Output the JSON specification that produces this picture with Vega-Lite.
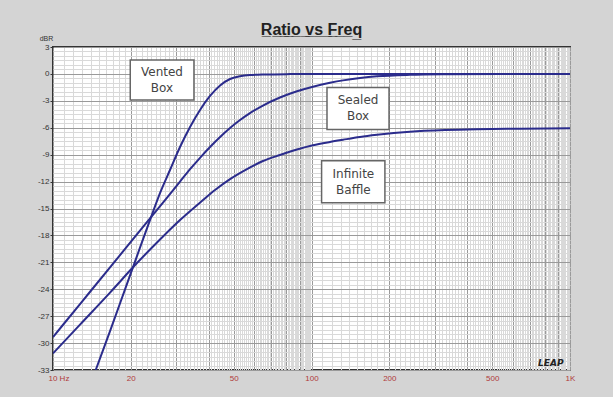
{
  "$schema": "https://vega.github.io/schema/vega-lite/v6.json",
  "width": 517,
  "height": 323,
  "autosize": {"type": "none"},
  "padding": {"left": 53, "top": 47, "right": 43, "bottom": 27},
  "background": "#d4d4d4",
  "config": {
    "view": {"fill": "white", "stroke": "#333333", "strokeWidth": 2},
    "font": "Liberation Sans"
  },
  "title": {
    "text": "R\u0332a\u0332t\u0332i\u0332o\u0332 \u0332v\u0332s\u0332 \u0332F\u0332r\u0332e\u0332q\u0332",
    "font": "Liberation Sans Narrow, Liberation Sans",
    "fontSize": 16,
    "fontWeight": "bold",
    "color": "#222222",
    "offset": -4,
    "anchor": "middle"
  },
  "datasets": {
    "curves": [
      {"series": "vented", "f": 14.63, "db": -33},
      {"series": "vented", "f": 16.62, "db": -28.66},
      {"series": "vented", "f": 18.98, "db": -24.04},
      {"series": "vented", "f": 21.13, "db": -20.3},
      {"series": "vented", "f": 23.72, "db": -16.29},
      {"series": "vented", "f": 25.94, "db": -13.28},
      {"series": "vented", "f": 28.35, "db": -10.71},
      {"series": "vented", "f": 31.0, "db": -8.15},
      {"series": "vented", "f": 33.9, "db": -5.92},
      {"series": "vented", "f": 37.05, "db": -4.02},
      {"series": "vented", "f": 40.5, "db": -2.46},
      {"series": "vented", "f": 44.3, "db": -1.29},
      {"series": "vented", "f": 48.4, "db": -0.57},
      {"series": "vented", "f": 52.9, "db": -0.27},
      {"series": "vented", "f": 57.8, "db": -0.13},
      {"series": "vented", "f": 66.1, "db": -0.06},
      {"series": "vented", "f": 82.6, "db": -0.02},
      {"series": "vented", "f": 117.9, "db": 0},
      {"series": "vented", "f": 1000, "db": 0},
      {"series": "sealed", "f": 10, "db": -29.33},
      {"series": "sealed", "f": 12.72, "db": -25.65},
      {"series": "sealed", "f": 16.62, "db": -21.56},
      {"series": "sealed", "f": 21.7, "db": -17.47},
      {"series": "sealed", "f": 27.13, "db": -14.06},
      {"series": "sealed", "f": 31.0, "db": -12.0},
      {"series": "sealed", "f": 33.9, "db": -10.62},
      {"series": "sealed", "f": 37.05, "db": -9.35},
      {"series": "sealed", "f": 40.5, "db": -8.15},
      {"series": "sealed", "f": 44.3, "db": -7.03},
      {"series": "sealed", "f": 48.4, "db": -6.03},
      {"series": "sealed", "f": 52.9, "db": -5.14},
      {"series": "sealed", "f": 57.8, "db": -4.36},
      {"series": "sealed", "f": 64.35, "db": -3.58},
      {"series": "sealed", "f": 75.5, "db": -2.63},
      {"series": "sealed", "f": 87.9, "db": -1.93},
      {"series": "sealed", "f": 101.3, "db": -1.42},
      {"series": "sealed", "f": 117.9, "db": -0.99},
      {"series": "sealed", "f": 132.4, "db": -0.72},
      {"series": "sealed", "f": 154, "db": -0.46},
      {"series": "sealed", "f": 179.2, "db": -0.27},
      {"series": "sealed", "f": 240.4, "db": -0.1},
      {"series": "sealed", "f": 343.4, "db": -0.03},
      {"series": "sealed", "f": 535.8, "db": 0},
      {"series": "sealed", "f": 1000, "db": 0},
      {"series": "ib", "f": 10, "db": -31.15},
      {"series": "ib", "f": 12.72, "db": -27.94},
      {"series": "ib", "f": 16.62, "db": -24.37},
      {"series": "ib", "f": 21.13, "db": -21.08},
      {"series": "ib", "f": 25.94, "db": -18.46},
      {"series": "ib", "f": 31.0, "db": -16.29},
      {"series": "ib", "f": 38.05, "db": -14.06},
      {"series": "ib", "f": 42.33, "db": -12.94},
      {"series": "ib", "f": 48.4, "db": -11.72},
      {"series": "ib", "f": 56.3, "db": -10.6},
      {"series": "ib", "f": 64.9, "db": -9.71},
      {"series": "ib", "f": 75.5, "db": -9.04},
      {"series": "ib", "f": 87.9, "db": -8.43},
      {"series": "ib", "f": 101.3, "db": -7.96},
      {"series": "ib", "f": 117.9, "db": -7.59},
      {"series": "ib", "f": 132.4, "db": -7.34},
      {"series": "ib", "f": 154, "db": -7.03},
      {"series": "ib", "f": 179.2, "db": -6.79},
      {"series": "ib", "f": 240.4, "db": -6.44},
      {"series": "ib", "f": 328.4, "db": -6.25},
      {"series": "ib", "f": 436.8, "db": -6.16},
      {"series": "ib", "f": 640.5, "db": -6.11},
      {"series": "ib", "f": 1000, "db": -6.06}
    ],
    "boxes": [
      {"label": "Vented\nBox", "f1": 19.9, "f2": 35.1, "d1": 1.55, "d2": -2.9, "fc": 26.4, "dc": -0.7},
      {"label": "Sealed\nBox", "f1": 114.8, "f2": 199.5, "d1": -1.5, "d2": -6.2, "fc": 151.4, "dc": -3.85},
      {"label": "Infinite\nBaffle", "f1": 109.4, "f2": 192.3, "d1": -9.68, "d2": -14.36, "fc": 145.2, "dc": -12.0}
    ],
    "logo": [
      {"text": "LEAP", "f": 843, "db": -32.2}
    ]
  },
  "layer": [
    {
      "data": {"name": "curves"},
      "mark": {"type": "line", "strokeWidth": 2, "color": "#2b2c8c", "interpolate": "monotone", "clip": true},
      "encoding": {
        "x": {
          "field": "f", "type": "quantitative",
          "scale": {"type": "log", "domain": [10, 1000], "nice": false},
          "axis": {
            "title": null,
            "tickCount": 1000,
            "values": [10,11,12,13,14,15,16,17,18,19,20,21,22,23,24,25,26,27,28,29,30,31,32,33,34,35,36,37,38,39,40,41,42,43,44,45,46,47,48,49,50,51,52,53,54,55,56,57,58,59,60,61,62,63,64,65,66,67,68,69,70,71,72,73,74,75,76,77,78,79,80,81,82,83,84,85,86,87,88,89,90,91,92,93,94,95,96,97,98,99,100,110,120,130,140,150,160,170,180,190,200,210,220,230,240,250,260,270,280,290,300,310,320,330,340,350,360,370,380,390,400,410,420,430,440,450,460,470,480,490,500,510,520,530,540,550,560,570,580,590,600,610,620,630,640,650,660,670,680,690,700,710,720,730,740,750,760,770,780,790,800,810,820,830,840,850,860,870,880,890,900,910,920,930,940,950,960,970,980,990,1000],
            "labelExpr": "indexof([10,20,50,100,200,500,1000], datum.value) >= 0 ? (datum.value == 10 ? '10  Hz' : (datum.value == 1000 ? '1K' : toString(datum.value))) : ''",
            "labelOverlap": false,
            "labelFlush": false,
            "labelColor": "#b03a3a",
            "labelFontSize": 8,
            "labelPadding": 4,
            "labelAlign": {"condition": {"test": "datum.value == 10", "value": "left"}, "value": "center"},
            "labelOffset": {"condition": {"test": "datum.value == 10", "value": -5}, "value": 0},
            "ticks": false,
            "domain": false,
            "grid": true,
            "gridColor": {"condition": {"test": "datum.value <= 100 ? datum.value % 10 == 0 : datum.value % 100 == 0", "value": "#9a9a9a"}, "value": "#d9d9d9"},
            "gridWidth": 1
          }
        },
        "y": {
          "field": "db", "type": "quantitative",
          "scale": {"domain": [-33, 3], "nice": false, "zero": false},
          "axis": {
            "title": "dBR",
            "titleAngle": 0,
            "titleFontSize": 7,
            "titleFontWeight": "normal",
            "titleColor": "#333333",
            "titleX": -7,
            "titleY": -6,
            "titleAlign": "center",
            "titleBaseline": "bottom",
            "tickCount": 1000,
            "values": [-33,-32.5,-32,-31.5,-31,-30.5,-30,-29.5,-29,-28.5,-28,-27.5,-27,-26.5,-26,-25.5,-25,-24.5,-24,-23.5,-23,-22.5,-22,-21.5,-21,-20.5,-20,-19.5,-19,-18.5,-18,-17.5,-17,-16.5,-16,-15.5,-15,-14.5,-14,-13.5,-13,-12.5,-12,-11.5,-11,-10.5,-10,-9.5,-9,-8.5,-8,-7.5,-7,-6.5,-6,-5.5,-5,-4.5,-4,-3.5,-3,-2.5,-2,-1.5,-1,-0.5,0,0.5,1,1.5,2,2.5,3],
            "labelExpr": "datum.value % 3 == 0 ? toString(datum.value) : ''",
            "labelOverlap": false,
            "labelFlush": false,
            "labelFontSize": 8,
            "labelColor": "#333333",
            "labelPadding": 1,
            "tickSize": 3,
            "tickColor": "#333333",
            "tickOpacity": {"condition": {"test": "datum.value % 3 == 0", "value": 1}, "value": 0},
            "domain": false,
            "grid": true,
            "gridColor": {"condition": {"test": "datum.value % 3 == 0", "value": "#9a9a9a"}, "value": "#d9d9d9"},
            "gridWidth": 1
          }
        },
        "detail": {"field": "series"}
      }
    },
    {
      "data": {"name": "boxes"},
      "mark": {"type": "rect", "fill": "white", "stroke": "#666666", "strokeWidth": 1.5},
      "encoding": {
        "x": {"field": "f1", "type": "quantitative"},
        "x2": {"field": "f2"},
        "y": {"field": "d1", "type": "quantitative"},
        "y2": {"field": "d2"}
      }
    },
    {
      "data": {"name": "boxes"},
      "mark": {"type": "text", "font": "DejaVu Sans", "fontSize": 12, "color": "#444444", "lineBreak": "\n", "lineHeight": 16, "align": "center", "baseline": "middle", "dy": -8},
      "encoding": {
        "x": {"field": "fc", "type": "quantitative"},
        "y": {"field": "dc", "type": "quantitative"},
        "text": {"field": "label"}
      }
    },
    {
      "data": {"name": "logo"},
      "mark": {"type": "text", "font": "DejaVu Sans", "fontSize": 9, "fontWeight": "bold", "fontStyle": "italic", "color": "#222222", "align": "center", "baseline": "middle"},
      "encoding": {
        "x": {"field": "f", "type": "quantitative"},
        "y": {"field": "db", "type": "quantitative"},
        "text": {"field": "text"}
      }
    }
  ]
}
